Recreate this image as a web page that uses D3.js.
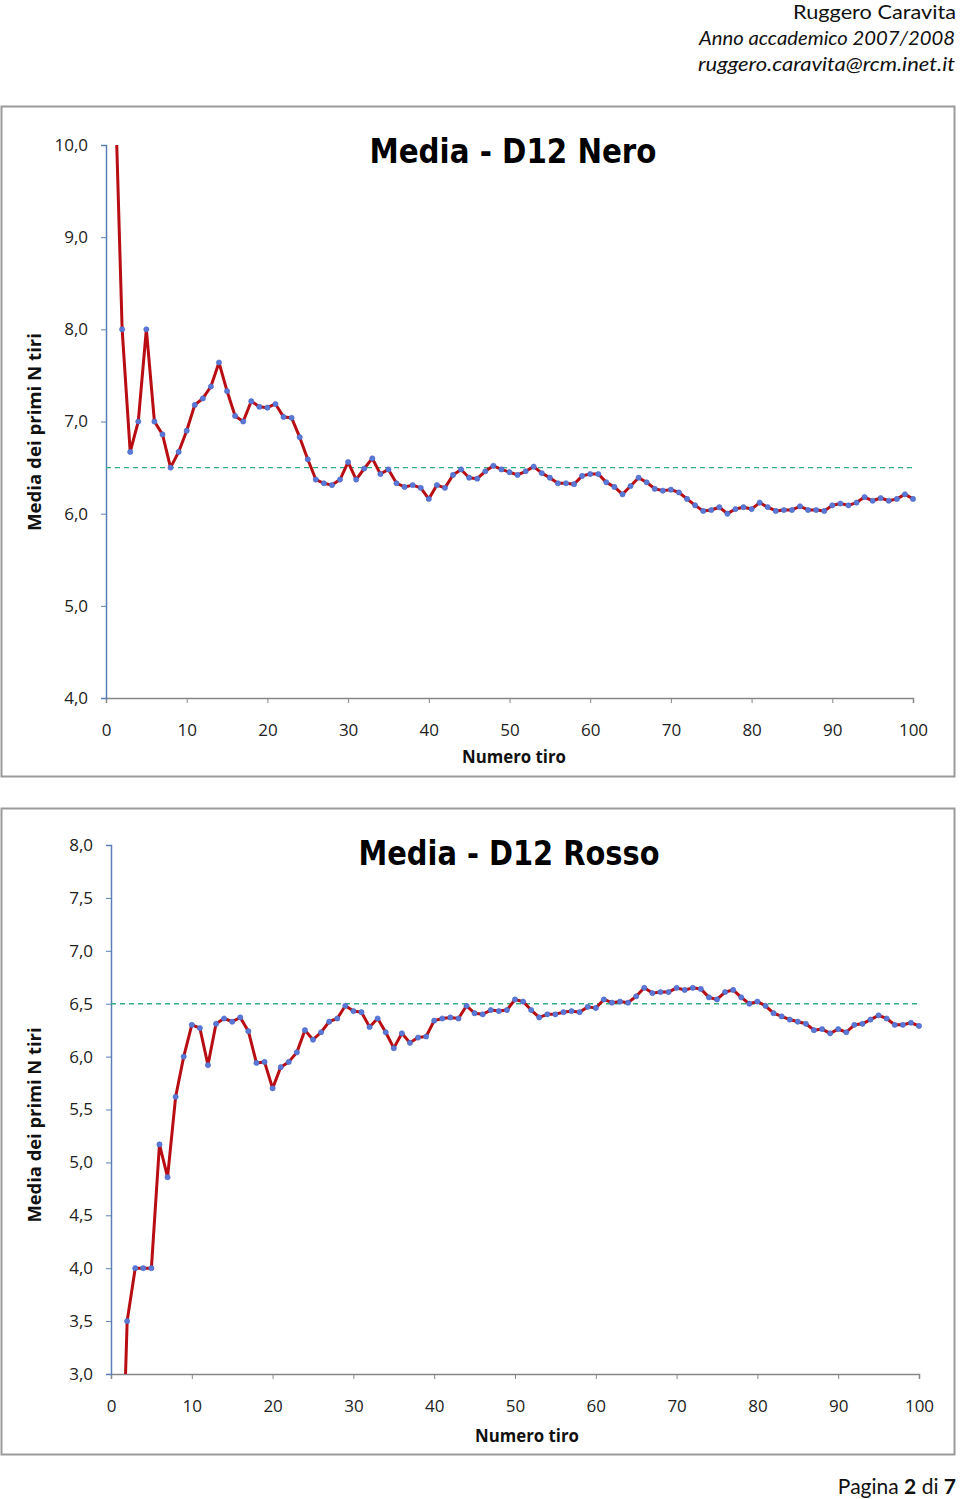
<!DOCTYPE html>
<html><head><meta charset="utf-8">
<script src="https://cdn.jsdelivr.net/npm/d3@7"></script>
<style>body{margin:0;background:#fff;} svg{display:block;}</style>
</head><body>
<svg id="page" width="960" height="1499"></svg>
<script>
// ---- data ----
const throwsN = d3.range(1, 101);
const meanNero = [11,8.0,6.67,7.0,8.0,7.0,6.86,6.5,6.67,6.9,
 7.18,7.25,7.38,7.64,7.33,7.06,7.0,7.22,7.16,7.15,
 7.19,7.05,7.04,6.83,6.59,6.37,6.33,6.31,6.37,6.56,
 6.37,6.49,6.60,6.43,6.48,6.33,6.29,6.31,6.28,6.16,
 6.31,6.28,6.42,6.48,6.39,6.38,6.46,6.52,6.48,6.45,
 6.42,6.46,6.51,6.44,6.39,6.33,6.33,6.32,6.41,6.43,
 6.43,6.34,6.29,6.21,6.30,6.39,6.34,6.27,6.25,6.26,
 6.23,6.16,6.09,6.03,6.04,6.07,6.00,6.05,6.07,6.05,
 6.12,6.07,6.03,6.04,6.04,6.08,6.04,6.04,6.03,6.09,
 6.11,6.09,6.12,6.18,6.14,6.17,6.14,6.16,6.21,6.16];
const meanRosso = [1.0,3.5,4.0,4.0,4.0,5.17,4.86,5.62,6.0,6.3,
 6.27,5.92,6.31,6.36,6.33,6.37,6.24,5.94,5.95,5.70,
 5.90,5.95,6.04,6.25,6.16,6.23,6.33,6.36,6.48,6.43,
 6.42,6.28,6.36,6.23,6.08,6.22,6.13,6.18,6.19,6.34,
 6.36,6.37,6.36,6.48,6.41,6.40,6.44,6.43,6.44,6.54,
 6.52,6.44,6.37,6.40,6.40,6.42,6.43,6.42,6.47,6.46,
 6.54,6.51,6.52,6.51,6.57,6.65,6.60,6.61,6.61,6.65,
 6.63,6.65,6.64,6.56,6.54,6.61,6.63,6.56,6.50,6.52,
 6.48,6.41,6.38,6.35,6.33,6.31,6.25,6.26,6.22,6.26,
 6.23,6.30,6.31,6.35,6.39,6.36,6.30,6.30,6.32,6.29];
const expectedMean = 6.5;
const xTicks = [0,10,20,30,40,50,60,70,80,90,100];
const yTicksNero = [4,5,6,7,8,9,10];
const yTicksRosso = [3,3.5,4,4.5,5,5.5,6,6.5,7,7.5,8];
const titles = ["Media - D12 Nero", "Media - D12 Rosso"];
const xTitle = "Numero tiro";
const yTitle = "Media dei primi N tiri";
const headerLines = ["Ruggero Caravita", "Anno accademico 2007/2008", "ruggero.caravita@rcm.inet.it"];

const svg = d3.select("#page");
const itFmt = d3.formatLocale({decimal: ",", thousands: ".", grouping: [3], currency: ["", "€"]}).format(".1f");

function fit(sel, w) {
  const n = sel.node();
  const cur = n.getComputedTextLength();
  if (cur > 0) sel.attr("textLength", w).attr("lengthAdjust", "spacingAndGlyphs");
  return sel;
}

// header
const hdrFont = "Lato, 'Open Sans', sans-serif";
fit(svg.append("text").attr("x", 956).attr("y", 19).attr("text-anchor", "end")
  .attr("font-family", hdrFont).attr("font-size", 20).attr("fill", "#111").text(headerLines[0]), 163);
fit(svg.append("text").attr("x", 955).attr("y", 45).attr("text-anchor", "end")
  .attr("font-family", hdrFont).attr("font-style", "italic").attr("font-size", 20).attr("fill", "#111").text(headerLines[1]), 256);
fit(svg.append("text").attr("x", 955).attr("y", 71).attr("text-anchor", "end")
  .attr("font-family", hdrFont).attr("font-style", "italic").attr("font-size", 20).attr("fill", "#111").text(headerLines[2]), 257);

// footer
const foot = svg.append("text").attr("x", 956).attr("y", 1494).attr("text-anchor", "end")
  .attr("font-family", hdrFont).attr("font-size", 21).attr("fill", "#111");
foot.append("tspan").text("Pagina ");
foot.append("tspan").attr("font-weight", "bold").text("2");
foot.append("tspan").text(" di ");
foot.append("tspan").attr("font-weight", "bold").text("7");

function drawChart(cfg) {
  const g = svg.append("g");
  g.append("rect").attr("x", 1.5).attr("y", cfg.frameTop + 0.5).attr("width", 953).attr("height", cfg.frameH)
    .attr("fill", "#fff").attr("stroke", "#9a9a9a").attr("stroke-width", 2);

  const x = d3.scaleLinear().domain([0, 100]).range([cfg.x0, cfg.x1]);
  const y = d3.scaleLinear().domain(cfg.yDomain).range([cfg.yBottom, cfg.yTop]);

  const clipId = "clip" + cfg.id;
  g.append("clipPath").attr("id", clipId).append("rect")
    .attr("x", cfg.x0).attr("y", cfg.yTop).attr("width", cfg.x1 - cfg.x0 + 10).attr("height", cfg.yBottom - cfg.yTop);

  // x axis
  const xa = g.append("g").attr("transform", `translate(0,${cfg.yBottom})`)
    .call(d3.axisBottom(x).tickValues(xTicks).tickSize(5).tickPadding(21).tickFormat(d3.format("d")));
  xa.select(".domain").attr("stroke", "#868686").attr("stroke-width", 1.5);
  xa.selectAll(".tick line").attr("stroke", "#868686");
  xa.selectAll("text").attr("font-family", "'Open Sans', sans-serif").attr("font-size", 17).attr("fill", "#222");

  // y axis
  const ya = g.append("g").attr("transform", `translate(${cfg.x0},0)`)
    .call(d3.axisLeft(y).tickValues(cfg.yTicks).tickSize(5).tickPadding(13).tickFormat(itFmt));
  ya.select(".domain").attr("stroke", "#5b7fb4").attr("stroke-width", 1.5);
  ya.selectAll(".tick line").attr("stroke", "#5b7fb4");
  ya.selectAll("text").attr("font-family", "'Open Sans', sans-serif").attr("font-size", 17).attr("fill", "#222");

  // reference dashed line
  g.append("line").attr("x1", x(0)).attr("x2", x(100)).attr("y1", y(expectedMean)).attr("y2", y(expectedMean))
    .attr("stroke", "#2fae80").attr("stroke-width", 1.4).attr("stroke-dasharray", "5,4");

  const pts = throwsN.map((n, i) => [n, cfg.values[i]]);
  const plot = g.append("g").attr("clip-path", `url(#${clipId})`);
  plot.append("path").datum(pts)
    .attr("d", d3.line().x(d => x(d[0])).y(d => y(d[1])))
    .attr("fill", "none").attr("stroke", "#b80d12").attr("stroke-width", 3).attr("stroke-linejoin", "round");
  plot.selectAll("circle").data(pts).join("circle")
    .attr("cx", d => x(d[0])).attr("cy", d => y(d[1])).attr("r", 2.6)
    .attr("fill", "#5a78d6").attr("stroke", "#4a66c4").attr("stroke-width", 0.6);

  // title
  fit(g.append("text").attr("x", cfg.titleX).attr("y", cfg.titleY).attr("text-anchor", "middle")
    .attr("font-family", "'DejaVu Sans', sans-serif").attr("font-weight", "bold").attr("font-size", 34)
    .attr("fill", "#000").text(cfg.title), cfg.titleW);

  // axis titles
  fit(g.append("text").attr("x", cfg.xTitleX).attr("y", cfg.xTitleY).attr("text-anchor", "middle")
    .attr("font-family", "'Open Sans', sans-serif").attr("font-weight", "bold").attr("font-size", 18)
    .attr("fill", "#111").text(xTitle), 104);
  fit(g.append("text").attr("transform", `translate(${cfg.yTitleX},${cfg.yTitleY}) rotate(-90)`)
    .attr("text-anchor", "middle")
    .attr("font-family", "'Open Sans', sans-serif").attr("font-weight", "bold").attr("font-size", 18)
    .attr("fill", "#111").text(yTitle), cfg.yTitleW);
}

drawChart({id: 1, values: meanNero, frameTop: 106, frameH: 670,
  x0: 106, x1: 913, yTop: 145, yBottom: 698, yDomain: [4, 10], yTicks: yTicksNero,
  title: titles[0], titleX: 513, titleY: 163, titleW: 287,
  xTitleX: 514, xTitleY: 763, yTitleX: 41, yTitleY: 432, yTitleW: 198});

drawChart({id: 2, values: meanRosso, frameTop: 808, frameH: 646,
  x0: 111, x1: 919, yTop: 845, yBottom: 1374, yDomain: [3, 8], yTicks: yTicksRosso,
  title: titles[1], titleX: 509, titleY: 865, titleW: 301,
  xTitleX: 527, xTitleY: 1442, yTitleX: 41, yTitleY: 1125, yTitleW: 195});
</script>
</body></html>
